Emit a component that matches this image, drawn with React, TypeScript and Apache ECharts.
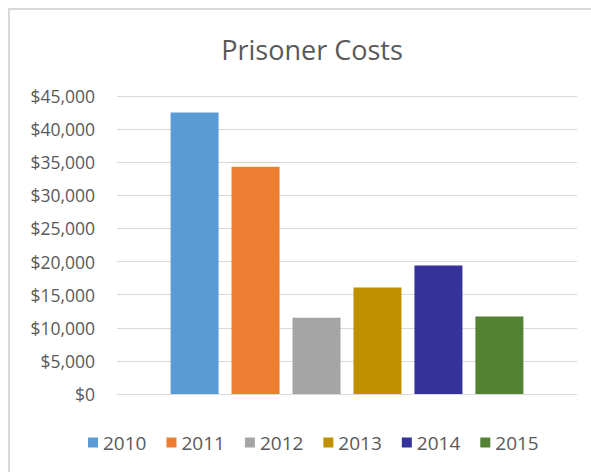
import React, { useEffect, useRef } from "react";
import * as echarts from "echarts";

const years = ["2010", "2011", "2012", "2013", "2014", "2015"];
const costs = [42500, 34300, 11500, 16100, 19400, 11700];
const colors = ["#5B9BD5", "#ED7D31", "#A5A5A5", "#BF9000", "#35339A", "#548235"];
const yTicks = { min: 0, max: 45000, interval: 5000 };

export default function App() {
  const ref = useRef<HTMLDivElement>(null);
  useEffect(() => {
    if (!ref.current) return;
    const chart = echarts.init(ref.current, undefined, { renderer: "svg" });
    const font = "'Open Sans', sans-serif";
    chart.setOption({
      animation: false,
      backgroundColor: "#fff",
      title: {
        text: "Prisoner Costs",
        left: 307,
        top: 31,
        textAlign: "center",
        textStyle: { fontFamily: font, fontSize: 27, fontWeight: "normal", color: "#595959" },
      },
      graphic: [
        {
          type: "rect",
          shape: { x: 9, y: 9, width: 700, height: 700 },
          style: { fill: "none", stroke: "#D9D9D9", lineWidth: 2 },
          silent: true,
        },
      ],
      legend: {
        left: 88,
        top: 433,
        padding: 0,
        itemWidth: 10,
        itemHeight: 10,
        itemGap: 20,
        icon: "rect",
        textStyle: { fontFamily: font, fontSize: 19, color: "#595959" },
        data: years,
      },
      grid: { left: 117, right: 14, top: 96, bottom: 78, containLabel: false },
      xAxis: {
        type: "category",
        data: ["Costs"],
        axisLabel: { show: false },
        axisTick: { show: false },
        axisLine: { show: false },
      },
      yAxis: {
        type: "value",
        min: yTicks.min,
        max: yTicks.max,
        interval: yTicks.interval,
        axisLine: { show: false },
        axisTick: { show: false },
        splitLine: { lineStyle: { color: "#D9D9D9", width: 1 } },
        axisLabel: {
          margin: 22,
          fontFamily: font,
          fontSize: 17.5,
          color: "#595959",
          formatter: (v: number) => "$" + v.toLocaleString("en-US"),
        },
      },
      series: years.map((y, i) => ({
        name: y,
        type: "bar",
        data: [costs[i]],
        barWidth: 48,
        barGap: "27%",
        itemStyle: { color: colors[i] },
      })),
    });
    return () => chart.dispose();
  }, []);
  return (
    <div
      ref={ref}
      style={{ position: "fixed", left: 0, top: 0, width: 591, height: 472 }}
    />
  );
}
